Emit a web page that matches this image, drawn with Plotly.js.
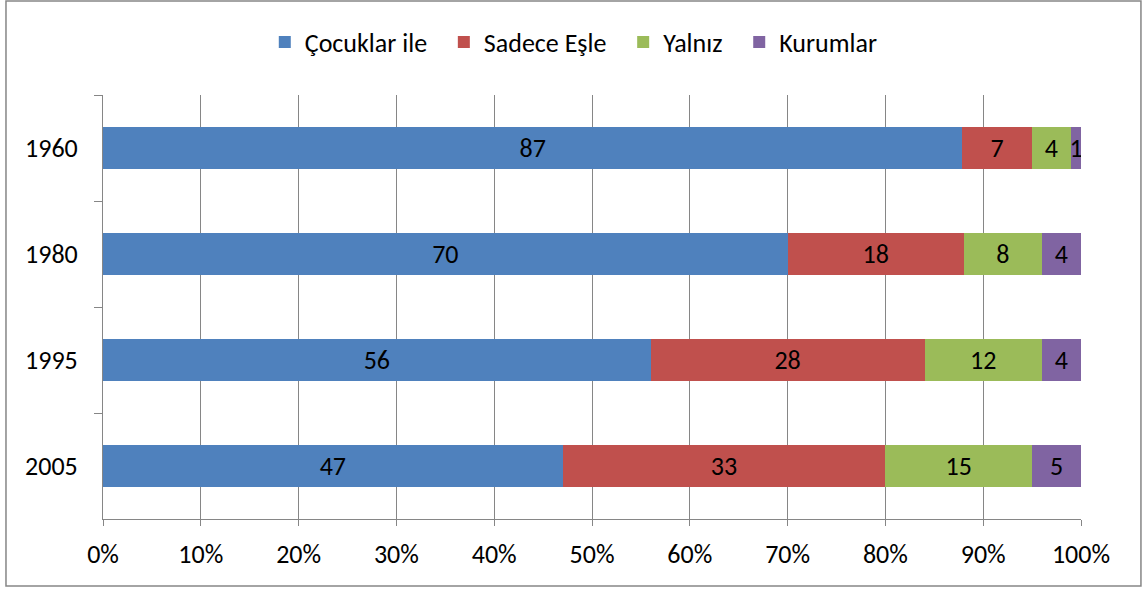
<!DOCTYPE html>
<html>
<head>
<meta charset="utf-8">
<script src="https://cdn.plot.ly/plotly-3.0.1.min.js"></script>
<style>
  html, body { margin: 0; padding: 0; background: #fff; }
  #chart { width: 1144px; height: 590px; }
</style>
</head>
<body>
<div id="chart"></div>
<script>
/* ---- Data ---- */
var years = ['1960', '1980', '1995', '2005'];
var seriesNames = ['Çocuklar ile', 'Sadece Eşle', 'Yalnız', 'Kurumlar'];
var cocuklar = [87, 70, 56, 47];
var esle     = [7, 18, 28, 33];
var yalniz   = [4, 8, 12, 15];
var kurumlar = [1, 4, 4, 5];
var seriesColors = ['#4F81BD', '#C0504D', '#9BBB59', '#8064A2'];

var FONT = 'Carlito, Lato, "Open Sans", sans-serif';
var FSIZE = 26;

function makeTrace(name, vals, color) {
  return {
    type: 'bar', orientation: 'h',
    // trailing nbsp widens the legend entry a bit, like the original
    name: name + '\u00a0\u00a0',
    x: vals, y: years,
    text: vals.map(function(v) { return String(v); }),
    textposition: 'inside',
    insidetextanchor: 'middle',
    constraintext: 'none',
    textfont: { family: FONT, size: FSIZE, color: '#000' },
    marker: { color: color, line: { width: 0 } },
    hoverinfo: 'name+x'
  };
}

var traces = [
  makeTrace(seriesNames[0], cocuklar, seriesColors[0]),
  makeTrace(seriesNames[1], esle, seriesColors[1]),
  makeTrace(seriesNames[2], yalniz, seriesColors[2]),
  makeTrace(seriesNames[3], kurumlar, seriesColors[3])
];

var layout = {
  width: 1144, height: 590,
  barmode: 'stack', barnorm: 'percent', bargap: 0.6,
  margin: { l: 103, r: 63, t: 95, b: 71 },
  paper_bgcolor: '#fff', plot_bgcolor: '#fff',
  font: { family: FONT, size: FSIZE, color: '#000' },
  showlegend: true,
  legend: {
    orientation: 'h', x: 0.487, xanchor: 'center', y: 1.125, yanchor: 'middle',
    font: { family: FONT, size: FSIZE, color: '#000' },
    traceorder: 'normal', itemwidth: 30
  },
  xaxis: {
    range: [0, 100], dtick: 10, ticksuffix: '%',
    showgrid: true, gridcolor: '#868686', gridwidth: 1,
    showline: true, linecolor: '#868686', linewidth: 1,
    ticks: 'outside', ticklen: 6, tickcolor: '#868686',
    ticklabelstandoff: 6,
    zeroline: false, fixedrange: true
  },
  yaxis: {
    autorange: 'reversed', type: 'category',
    showgrid: false, showline: true, linecolor: '#868686', linewidth: 1,
    ticks: 'outside', tickson: 'boundaries', ticklen: 8, tickcolor: '#868686',
    ticklabelstandoff: 19,
    zeroline: false, fixedrange: true
  },
  shapes: [{
    type: 'rect', xref: 'paper', yref: 'paper',
    x0: -0.0992, x1: 1.0613, y0: -0.158, y1: 1.2217,
    line: { color: '#868686', width: 1.5 }, fillcolor: 'rgba(0,0,0,0)'
  }]
};

Plotly.newPlot('chart', traces, layout, { displayModeBar: false, staticPlot: true });
</script>
</body>
</html>
